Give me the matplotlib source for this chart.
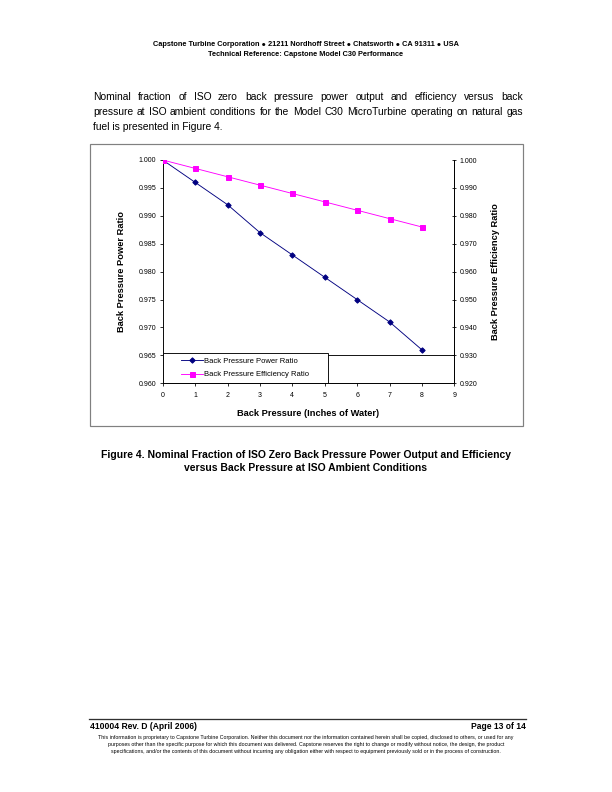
import matplotlib
matplotlib.use("Agg")
import matplotlib.pyplot as plt
from matplotlib.patches import Rectangle
from matplotlib.lines import Line2D

plt.rcParams['font.family'] = ['Liberation Sans', 'DejaVu Sans']

# --- data ---
back_pressure = [0, 1, 2, 3, 4, 5, 6, 7, 8]
power_ratio = [1.000, 0.996, 0.992, 0.987, 0.983, 0.979, 0.975, 0.971, 0.966]
eff_ratio = [1.000, 0.997, 0.994, 0.991, 0.988, 0.985, 0.982, 0.979, 0.976]
left_ticks = [0.960, 0.965, 0.970, 0.975, 0.980, 0.985, 0.990, 0.995, 1.000]
right_ticks = [0.920, 0.930, 0.940, 0.950, 0.960, 0.970, 0.980, 0.990, 1.000]
x_ticks = [0, 1, 2, 3, 4, 5, 6, 7, 8, 9]

W, H = 612, 792
fig = plt.figure(figsize=(W / 72, H / 72), dpi=72)


def fx(x):
    return x / W


def fy(y):
    return 1 - y / H


# --- page header ---
fig.text(fx(306), fy(45), "Capstone Turbine Corporation \u25cf 21211 Nordhoff Street \u25cf Chatsworth \u25cf CA 91311 \u25cf USA",
         ha='center', va='center', fontsize=7.4, fontweight='bold')
fig.text(fx(306), fy(54.5), "Technical Reference: Capstone Model C30 Performance",
         ha='center', va='center', fontsize=7.4, fontweight='bold')

# --- justified paragraph ---
para = [
    "Nominal fraction of ISO zero back pressure power output and efficiency versus back",
    "pressure at ISO ambient conditions for the Model C30 MicroTurbine operating on natural gas",
    "fuel is presented in Figure 4.",
]
renderer = fig.canvas.get_renderer()
x_left, x_right = 93, 523
for i, line in enumerate(para):
    y = fy(97 + i * 15)
    if i == len(para) - 1:
        fig.text(fx(x_left), y, line, fontsize=10.2, va='center')
        continue
    words = line.split()
    texts = [fig.text(0, y, w, fontsize=10.2, va='center') for w in words]
    widths = [t.get_window_extent(renderer).width for t in texts]
    gap = (x_right - x_left - sum(widths)) / (len(words) - 1)
    pos = x_left
    for t, w in zip(texts, widths):
        t.set_x(fx(pos))
        pos += w + gap

# --- chart frame ---
fig.patches.append(Rectangle((fx(90), fy(426)), fx(523) - fx(90), fy(144) - fy(426),
                             transform=fig.transFigure, fill=False,
                             edgecolor='#808080', lw=1.2))

# --- chart ---
ax = fig.add_axes([fx(162.7), fy(383.3), fx(454.3) - fx(162.7), fy(160) - fy(383.3)])
ax.plot(back_pressure, power_ratio, color='#000080', lw=0.9, marker='D', ms=3.8,
        zorder=3)
ax.axhline(0.965, color='black', lw=0.9, zorder=1)
ax.set_xlim(0, 9)
ax.set_ylim(0.960, 1.000)
ax.set_xticks(x_ticks)
ax.set_yticks(left_ticks)
ax.set_yticklabels([f"{v:.3f}" for v in left_ticks])
ax.tick_params(labelsize=7, length=3, width=0.8, direction='out')
ax.tick_params(axis='x', pad=6)
ax.spines['top'].set_visible(False)
for s in ['left', 'bottom', 'right']:
    ax.spines[s].set_linewidth(0.9)
ax.spines['left'].set_color('#404040')
ax.set_xlabel("Back Pressure (Inches of Water)", fontsize=9.3, fontweight='bold', labelpad=10)
ax.set_ylabel("Back Pressure Power Ratio", fontsize=9.3, fontweight='bold', labelpad=12)

ax2 = ax.twinx()
ax2.plot(back_pressure, eff_ratio, color='#FF00FF', lw=0.9, marker='s', ms=5,
         zorder=3)
ax2.set_ylim(0.920, 1.000)
ax2.set_yticks(right_ticks)
ax2.set_yticklabels([f"{v:.3f}" for v in right_ticks])
ax2.tick_params(labelsize=7, length=4, width=0.8, direction='inout', pad=3)
ax2.spines['top'].set_visible(False)
ax2.spines['right'].set_linewidth(0.9)
ax2.set_ylabel("Back Pressure Efficiency Ratio", fontsize=9.3, fontweight='bold', labelpad=14)

# legend box (Excel style, wider than its content)
box = Rectangle((0.0, 0.0), 0.567, 0.137, transform=ax2.transAxes, facecolor='white',
                edgecolor='black', lw=0.9, zorder=4)
ax2.add_patch(box)
handles = [Line2D([], [], color='#000080', lw=0.9, marker='D', ms=3.8),
           Line2D([], [], color='#FF00FF', lw=0.9, marker='s', ms=5)]
leg = ax2.legend(handles, ['Back Pressure Power Ratio', 'Back Pressure Efficiency Ratio'],
                 loc='center', bbox_to_anchor=(0.0, 0.0, 0.567, 0.137), borderaxespad=0,
                 fontsize=7.6, frameon=False, handlelength=2.8, borderpad=0.2,
                 labelspacing=0.75, handletextpad=0.25)
leg.set_zorder(5)

# --- caption ---
fig.text(fx(306), fy(455), "Figure 4. Nominal Fraction of ISO Zero Back Pressure Power Output and Efficiency",
         ha='center', va='center', fontsize=10.4, fontweight='bold')
fig.text(fx(306), fy(468), "versus Back Pressure at ISO Ambient Conditions",
         ha='center', va='center', fontsize=10.4, fontweight='bold')

# --- footer ---
fig.add_artist(Line2D([fx(89), fx(526)], [fy(719), fy(719)], transform=fig.transFigure,
                      color='#303030', lw=1.3))
fig.text(fx(90), fy(726.5), "410004 Rev. D (April 2006)", ha='left', va='center',
         fontsize=8.5, fontweight='bold')
fig.text(fx(526), fy(726.5), "Page 13 of 14", ha='right', va='center',
         fontsize=8.5, fontweight='bold')
fine = [
    "This information is proprietary to Capstone Turbine Corporation. Neither this document nor the information contained herein shall be copied, disclosed to others, or used for any",
    "purposes other than the specific purpose for which this document was delivered. Capstone reserves the right to change or modify without notice, the design, the product",
    "specifications, and/or the contents of this document without incurring any obligation either with respect to equipment previously sold or in the process of construction.",
]
for i, line in enumerate(fine):
    fig.text(fx(306), fy(737 + i * 7.5), line, ha='center', va='center', fontsize=5.3)

fig.savefig("out.png", dpi=72)
